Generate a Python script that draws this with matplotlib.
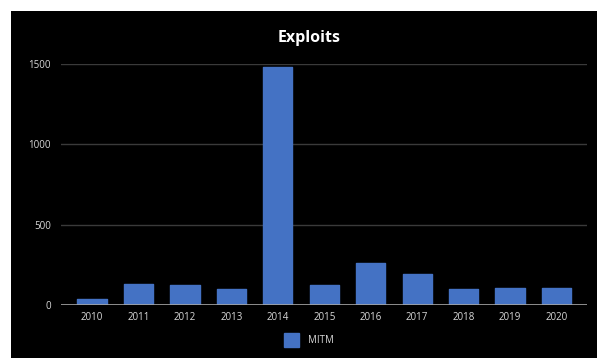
import matplotlib
matplotlib.use("Agg")
import matplotlib.pyplot as plt
from matplotlib.patches import Rectangle

years = ["2010", "2011", "2012", "2013", "2014", "2015", "2016", "2017", "2018", "2019", "2020"]
mitm = [35, 131, 123, 101, 1483, 123, 259, 195, 100, 108, 108]
series_name = "MITM"
title = "Exploits"
yticks = [0, 500, 1000, 1500]

plt.rcParams['font.family'] = ['Open Sans', 'DejaVu Sans']

fig = plt.figure(figsize=(6, 3.58), dpi=100)
fig.patch.set_facecolor("white")
fig.patches.append(Rectangle((11/600, 0), (597-11)/600, 1 - 11/358,
                             transform=fig.transFigure, facecolor="black",
                             edgecolor="none", zorder=-10))

ax = fig.add_axes([60.5/600, 1 - 305/358, (586.7-60.5)/600, (305-64)/358])
ax.set_facecolor("black")
ax.patch.set_alpha(0)

x = list(range(len(years)))
ax.bar(x, mitm, width=0.63, color="#4472C4", edgecolor="#4472C4",
       linewidth=1.0, joinstyle="round", zorder=3, label=series_name)

ax.set_xlim(-0.68, 10.65)
ax.set_ylim(0, 1500)
ax.set_yticks(yticks)
ax.set_yticklabels([str(v) for v in yticks])
ax.set_xticks(x)
ax.set_xticklabels(years)

for v in yticks[1:]:
    ax.axhline(v, color="#3a3a3a", linewidth=1.0, zorder=1)
ax.axhline(0, color="#a6a6a6", linewidth=1.2, zorder=4)

for s in ax.spines.values():
    s.set_visible(False)
ax.tick_params(axis="both", length=0, colors="#d9d9d9", labelsize=7)
ax.tick_params(axis="y", pad=7)
ax.tick_params(axis="x", pad=5)

fig.text(309/600, 1 - 38.5/358, title, ha="center", va="center",
         color="white", fontsize=11.5, fontweight="bold")

leg = ax.legend(loc="center", bbox_to_anchor=(309/600, 1 - 340/358),
                bbox_transform=fig.transFigure,
                frameon=False, fontsize=7, handlelength=1.55, handleheight=1.9,
                handletextpad=1.0, labelcolor="#d9d9d9")

fig.savefig("out.png", dpi=100, facecolor=fig.get_facecolor())
